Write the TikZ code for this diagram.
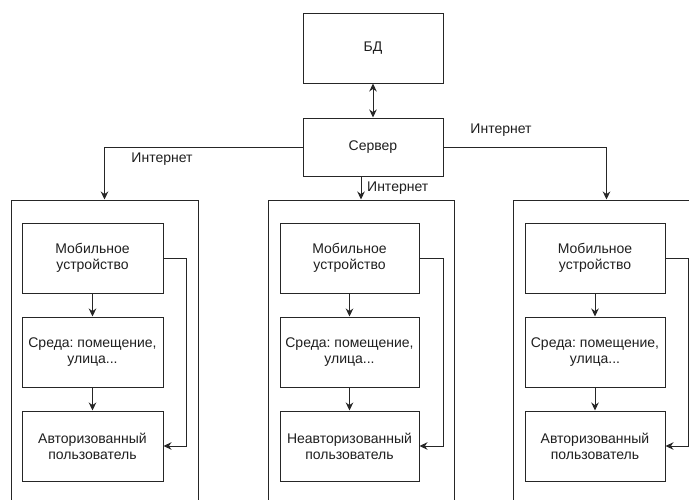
\documentclass[tikz,border=0pt]{standalone}
\usepackage{fontspec}
\setmainfont{Liberation Sans}
\usetikzlibrary{arrows.meta}
\frenchspacing
\begin{document}
\begin{tikzpicture}[x=1pt,y=-1pt,
  every node/.style={font=\fontsize{14}{16}\selectfont,text=black!88},
  box/.style={draw=black!85,line width=1pt,rectangle,inner sep=0pt,align=center},
  inbox/.style={box,minimum width=141pt,minimum height=70pt},
  outbox/.style={draw=black!85,line width=1pt,rectangle,inner sep=0pt,minimum height=320pt},
  conn/.style={draw=black!85,line width=1pt,-{Stealth[length=8pt,width=7.5pt]}},
  lbl/.style={inner sep=0pt}]
\useasboundingbox (0,0) rectangle (689,499);
\clip (0,0) rectangle (689,499);
\fill[white] (0,0) rectangle (689,499);

\node[box,minimum width=140pt,minimum height=70pt] (bd) at (373,48) {БД};
\node[box,minimum width=140pt,minimum height=58pt] (srv) at (373,147) {Сервер};
\draw[draw=black!85,line width=1pt,{Stealth[length=8pt,width=7.5pt]}-{Stealth[length=8pt,width=7.5pt]}] (bd) -- (srv);

\node[outbox,minimum width=187pt] (o1) at (104.5,360) {};
\node[outbox,minimum width=186pt] (o2) at (361,360) {};
\node[outbox,minimum width=187pt] (o3) at (606.5,360) {};

\draw[conn] (srv.west) -| (o1.north);
\draw[conn] (srv.east) -| (o3.north);
\draw[conn] (o2.north |- srv.south) -- (o2.north);

\node[lbl] (l1) at (162,159) {Интернет};
\node[lbl,anchor=west] (l2) at (367,188) {Интернет};
\node[lbl] (l3) at (501,130) {Интернет};

% column 1
\node[inbox] (m1) at (92.5,258) {Мобильное\\устройство};
\node[inbox] (s1) at (92.5,352) {Среда: помещение,\\улица...};
\node[inbox] (a1) at (92.5,446) {Авторизованный\\пользователь};
\draw[conn] (m1) -- (s1);
\draw[conn] (s1) -- (a1);
\coordinate (r1) at (186,0);
\draw[conn] (m1.east) -- (m1.east -| r1) -- (a1.east -| r1) -- (a1.east);

% column 2
\node[inbox,minimum width=139pt] (m2) at (349.5,258) {Мобильное\\устройство};
\node[inbox,minimum width=139pt] (s2) at (349.5,352) {Среда: помещение,\\улица...};
\node[inbox,minimum width=139pt] (a2) at (349.5,446) {Неавторизованный\\пользователь};
\draw[conn] (m2) -- (s2);
\draw[conn] (s2) -- (a2);
\coordinate (r2) at (443,0);
\draw[conn] (m2.east) -- (m2.east -| r2) -- (a2.east -| r2) -- (a2.east);

% column 3
\node[inbox,minimum width=140pt] (m3) at (595,258) {Мобильное\\устройство};
\node[inbox,minimum width=140pt] (s3) at (595,352) {Среда: помещение,\\улица...};
\node[inbox,minimum width=140pt] (a3) at (595,446) {Авторизованный\\пользователь};
\draw[conn] (m3) -- (s3);
\draw[conn] (s3) -- (a3);
\coordinate (r3) at (688,0);
\draw[conn] (m3.east) -- (m3.east -| r3) -- (a3.east -| r3) -- (a3.east);
\end{tikzpicture}
\end{document}
